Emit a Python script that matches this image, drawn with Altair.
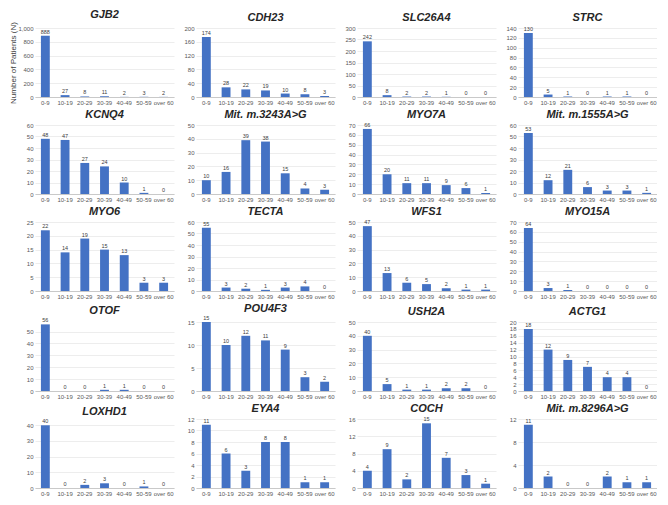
import altair as alt
import pandas as pd

ages = ["0-9", "10-19", "20-29", "30-39", "40-49", "50-59", "over 60"]

genes = ["GJB2", "CDH23", "SLC26A4", "STRC",
         "KCNQ4", "Mit. m.3243A>G", "MYO7A", "Mit. m.1555A>G",
         "MYO6", "TECTA", "WFS1", "MYO15A",
         "OTOF", "POU4F3", "USH2A", "ACTG1",
         "LOXHD1", "EYA4", "COCH", "Mit. m.8296A>G"]

counts = [
    [888, 27, 8, 11, 2, 3, 2],
    [174, 28, 22, 19, 10, 8, 3],
    [242, 8, 2, 2, 1, 0, 0],
    [130, 5, 1, 0, 1, 1, 0],
    [48, 47, 27, 24, 10, 1, 0],
    [10, 16, 39, 38, 15, 4, 3],
    [66, 20, 11, 11, 9, 6, 1],
    [53, 12, 21, 6, 3, 3, 1],
    [22, 14, 19, 15, 13, 3, 3],
    [55, 3, 2, 1, 3, 4, 0],
    [47, 13, 6, 5, 2, 1, 1],
    [64, 3, 1, 0, 0, 0, 0],
    [56, 0, 0, 1, 1, 0, 0],
    [15, 10, 12, 11, 9, 3, 2],
    [40, 5, 1, 1, 2, 2, 0],
    [18, 12, 9, 7, 4, 4, 0],
    [40, 0, 2, 3, 0, 1, 0],
    [11, 6, 3, 8, 8, 1, 1],
    [4, 9, 2, 15, 7, 3, 1],
    [11, 2, 0, 0, 2, 1, 1],
]

# y-axis tick labels of each panel
y_ticks = [
    [0, 200, 400, 600, 800, 1000],
    [0, 40, 80, 120, 160, 200],
    [0, 50, 100, 150, 200, 250, 300],
    [0, 20, 40, 60, 80, 100, 120, 140],
    [0, 10, 20, 30, 40, 50, 60],
    [0, 10, 20, 30, 40, 50],
    [0, 10, 20, 30, 40, 50, 60, 70],
    [0, 10, 20, 30, 40, 50, 60],
    [0, 5, 10, 15, 20, 25],
    [0, 10, 20, 30, 40, 50, 60],
    [0, 10, 20, 30, 40, 50],
    [0, 10, 20, 30, 40, 50, 60, 70],
    [0, 10, 20, 30, 40, 50],
    [0, 5, 10, 15],
    [0, 10, 20, 30, 40, 50],
    [0, 2, 4, 6, 8, 10, 12, 14, 16, 18, 20],
    [0, 10, 20, 30, 40],
    [0, 2, 4, 6, 8, 10, 12],
    [0, 4, 8, 12, 16],
    [0, 4, 8, 12],
]
y_max = [1000, 200, 300, 140, 60, 50, 70, 60, 25, 60, 50, 70, 58, 15, 50, 20, 44, 12, 16, 12]

W, H = 139, 69
BLUE = "#4472C4"
FONT = "Liberation Sans"

panels = []
for i, g in enumerate(genes):
    df = pd.DataFrame({"age": ages, "n": counts[i]})
    yaxis = alt.Axis(values=y_ticks[i], minExtent=16, maxExtent=16)
    if i == 0:
        yaxis = alt.Axis(values=y_ticks[i], minExtent=16, maxExtent=16,
                         title="Number of Patients (N)", titleFontSize=8,
                         titleFontWeight="normal", titleColor="#404040",
                         titleFont=FONT, titlePadding=2)
    base = alt.Chart(df).encode(
        x=alt.X("age:N", sort=ages, title=None,
                scale=alt.Scale(paddingInner=0.55, paddingOuter=0.3),
                axis=alt.Axis(labelAngle=0)),
        y=alt.Y("n:Q", title=None if i else "Number of Patients (N)",
                scale=alt.Scale(domain=[0, y_max[i]], nice=False, zero=True),
                axis=yaxis),
    )
    bars = base.mark_bar(color=BLUE)
    labels = base.mark_text(dy=-4, fontSize=5.5, color="#404040", font=FONT).encode(
        text="n:Q")
    panel = alt.layer(bars, labels).properties(
        width=W, height=H,
        title=alt.TitleParams(g, fontSize=11, fontWeight="bold", fontStyle="italic",
                              font=FONT, color="#262626", offset=2, anchor="middle"),
    )
    panels.append(panel)

chart = alt.concat(*panels, columns=4, spacing={"row": 4, "column": 6}).properties(
    padding=0
).configure_view(stroke=None).configure_axis(
    labelFont=FONT, labelFontSize=6, labelColor="#595959", ticks=False,
    labelPadding=2, labelOverlap=False,
).configure_axisX(
    grid=False, domainColor="#bfbfbf", domainWidth=0.8,
).configure_axisY(
    domain=False, gridColor="#e0e0e0", gridWidth=0.6,
)

chart.save("out.html", embed_options={"renderer": "svg", "actions": False})
